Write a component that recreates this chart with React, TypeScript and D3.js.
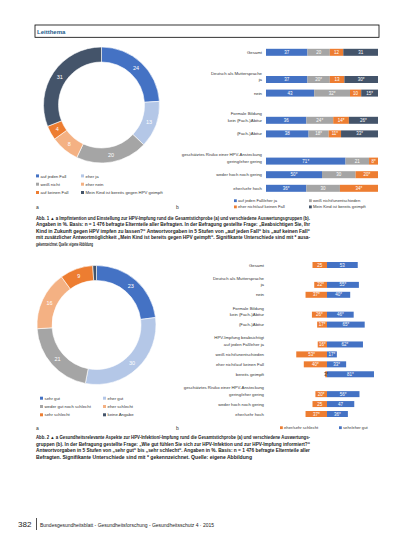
import React from 'react';
import * as d3 from 'd3';

// ---------- DATA ----------
const donut1Categories = ["auf jeden Fall", "eher ja", "weiß nicht", "eher nein", "auf keinen Fall", "Mein Kind ist bereits gegen HPV geimpft"];
const donut1Values = [24, 13, 20, 8, 4, 31];

const bar1Categories = ["Gesamt", "ja", "nein", "kein (Fach-)Abitur", "(Fach-)Abitur", "gering/eher gering", "weder hoch noch gering", "eher/sehr hoch"];
const bar1RowKeys = ["Gesamt", "_s1", "ja", "nein", "_s2", "kein (Fach-)Abitur", "(Fach-)Abitur", "_s3", "gering/eher gering", "weder hoch noch gering", "eher/sehr hoch"];
const bar1Headers = [["ja", "Deutsch als Muttersprache"], ["kein (Fach-)Abitur", "Formale Bildung"], ["gering/eher gering", "geschätztes Risiko einer HPV-Ansteckung"]];
const bar1Series = ["auf jeden Fall/eher ja", "weiß nicht/unentschieden", "eher nicht/auf keinen Fall", "Mein Kind ist bereits geimpft"];
const bar1Yes = [37, 37, 43, 36, 38, 71, 50, 36];
const bar1Undecided = [20, 20, 32, 24, 18, 21, 30, 30];
const bar1No = [12, 13, 10, 14, 11, 8, 20, 34];
const bar1Vaccinated = [31, 30, 15, 26, 33, 0, 0, 0];
const bar1YesSig = [false, false, false, false, false, true, true, true];
const bar1UndecidedSig = [false, true, true, true, true, false, false, false];
const bar1NoSig = [false, false, false, true, true, true, true, true];
const bar1VaccinatedSig = [false, true, true, true, true, false, false, false];

const donut2Categories = ["sehr gut", "eher gut", "weder gut noch schlecht", "eher schlecht", "sehr schlecht", "keine Angabe"];
const donut2Values = [23, 30, 21, 16, 9, 1];

const bar2Categories = ["Gesamt", "ja", "nein", "kein (Fach-)Abitur", "(Fach-)Abitur", "auf jeden Fall/eher ja", "weiß nicht/unentschieden", "eher nicht/auf keinen Fall", "bereits geimpft", "gering/eher gering", "weder hoch noch gering", "eher/sehr hoch"];
const bar2RowKeys = ["Gesamt", "_s1", "ja", "nein", "_s2", "kein (Fach-)Abitur", "(Fach-)Abitur", "_s3", "auf jeden Fall/eher ja", "weiß nicht/unentschieden", "eher nicht/auf keinen Fall", "bereits geimpft", "_s4", "gering/eher gering", "weder hoch noch gering", "eher/sehr hoch"];
const bar2Headers = [["ja", "Deutsch als Muttersprache"], ["kein (Fach-)Abitur", "Formale Bildung"], ["auf jeden Fall/eher ja", "HPV-Impfung beabsichtigt"], ["gering/eher gering", "geschätztes Risiko einer HPV-Ansteckung"]];
const bar2Series = ["eher/sehr schlecht", "sehr/eher gut"];
const bar2Bad = [25, 22, 37, 26, 17, 16, 53, 40, 3, 20, 25, 37];
const bar2Good = [53, 55, 40, 46, 65, 62, 17, 33, 81, 56, 47, 36];
const bar2BadSig = [false, true, true, true, true, true, true, true, true, true, false, true];
const bar2GoodSig = [false, true, true, true, true, true, true, true, true, true, false, true];

const caption1 = [
  "Abb. 1 ▲ a Impfintention und Einstellung zur HPV-Impfung rund die Gesamtstichprobe (a) und verschiedene Auswertungsgruppen (b).",
  "Angaben in %. Basis: n = 1 476 befragte Elternteile aller Befragten. In der Befragung gestellte Frage: „Beabsichtigen Sie, Ihr",
  "Kind in Zukunft gegen HPV impfen zu lassen?“ Antwortvorgaben in 5 Stufen von „auf jeden Fall“ bis „auf keinen Fall“",
  "mit zusätzlicher Antwortmöglichkeit „Mein Kind ist bereits gegen HPV geimpft“. Signifikante Unterschiede sind mit * ausa-",
  "gekennzeichnet. Quelle: eigene Abbildung",
];
const caption2 = [
  "Abb. 2 ▲ a Gesundheitsrelevante Aspekte zur HPV-Infektion/-Impfung rund die Gesamtstichprobe (a) und verschiedene Auswertungs-",
  "gruppen (b). In der Befragung gestellte Frage: „Wie gut fühlen Sie sich zur HPV-Infektion und zur HPV-Impfung informiert?“",
  "Antwortvorgaben in 5 Stufen von „sehr gut“ bis „sehr schlecht“. Angaben in %. Basis: n = 1 476 befragte Elternteile aller",
  "Befragten. Signifikante Unterschiede sind mit * gekennzeichnet. Quelle: eigene Abbildung",
];

// ---------- STYLE ----------
const C = {
  blue: "#4472C4",
  lightBlue: "#B4C7E7",
  gray: "#A5A5A5",
  lightOrange: "#F4B183",
  orange: "#ED7D31",
  navy: "#44546A",
};
const donutColors = [C.blue, C.lightBlue, C.gray, C.lightOrange, C.orange, C.navy];
const bar1Colors = [C.blue, C.gray, C.orange, C.navy];
const FONT = "'Liberation Sans', Arial, sans-serif";
const TXT = "#333";

function Donut({ cx, cy, rOut, rIn, values, cats, legendY, legendX1, legendX2 }: any) {
  const pie = d3.pie<number>().sort(null).value((d) => d);
  const arcs = pie(values);
  const arc = d3.arc<d3.PieArcDatum<number>>().innerRadius(rIn).outerRadius(rOut);
  return (
    <g>
      <g transform={`translate(${cx},${cy})`}>
        {arcs.map((a, i) => (
          <path key={i} d={arc(a) || ""} fill={donutColors[i]} stroke="#fff" strokeWidth={0.6} />
        ))}
        {arcs.map((a, i) => {
          const [x, y] = arc.centroid(a);
          if (a.data < 2) return null;
          return (
            <text key={"t" + i} x={x} y={y} dy="0.35em" textAnchor="middle" fontSize={5.5} fill="#fff" fontFamily={FONT}>
              {a.data}
            </text>
          );
        })}
      </g>
      {cats.map((c: string, i: number) => {
        const col = i % 2;
        const row = Math.floor(i / 2);
        const x = col === 0 ? legendX1 : legendX2;
        const y = legendY + row * 8.3;
        return (
          <g key={"l" + i}>
            <rect x={x} y={y - 1.6} width={3} height={3} fill={donutColors[i]} />
            <text x={x + 4.5} y={y} dy="0.35em" fontSize={4.3} fill={TXT} fontFamily={FONT}>
              {c}
            </text>
          </g>
        );
      })}
    </g>
  );
}

function Caption({ lines, x, y, widths }: any) {
  return (
    <g>
      {lines.map((l: string, i: number) => (
        <text key={i} x={x} y={y + i * 6.6} fontSize={4.5} fontWeight="bold" fill="#222" fontFamily={FONT}
          textLength={widths[i]} lengthAdjust="spacingAndGlyphs">
          {l}
        </text>
      ))}
    </g>
  );
}

export default function App() {
  // ---- Chart 1b (100% stacked) ----
  const y1 = d3.scalePoint<string>().domain(bar1RowKeys).range([52.3, 188.3]);
  const x1 = d3.scaleLinear().domain([0, 100]).range([266, 378]);
  const s1 = [bar1Yes, bar1Undecided, bar1No, bar1Vaccinated];
  const s1Sig = [bar1YesSig, bar1UndecidedSig, bar1NoSig, bar1VaccinatedSig];
  const table1 = bar1Categories.map((c, i) => {
    const o: any = { cat: c };
    bar1Series.forEach((s, j) => (o[s] = s1[j][i]));
    return o;
  });
  const stack1 = d3.stack<any>().keys(bar1Series)(table1);
  const bh1 = 7;

  // ---- Chart 2b (diverging) ----
  const y2 = d3.scalePoint<string>().domain(bar2RowKeys).range([265, 414]);
  const x2 = d3.scaleLinear().domain([-100, 100]).range([327 - 58, 327 + 58]);
  const bh2 = 6;

  return (
    <svg width={413} height={550} style={{ position: "absolute", left: 0, top: 0, background: "#fff" }}>
      <rect x={0} y={0} width={413} height={550} fill="#fff" />
      {/* header */}
      <rect x={35} y={25} width={344} height={12.3} fill="none" stroke="#000" strokeWidth={0.8} />
      <text x={37} y={33.5} fontSize={6} fontWeight="bold" fill="#1C5D8C" fontFamily={FONT}>Leitthema</text>

      {/* Figure 1a */}
      <Donut cx={101.5} cy={105} rOut={58} rIn={43} values={donut1Values} cats={donut1Categories}
        legendY={176} legendX1={36} legendX2={81} />
      <text x={36} y={209} fontSize={5} fill={TXT} fontFamily={FONT}>a</text>
      <text x={176} y={209} fontSize={5} fill={TXT} fontFamily={FONT}>b</text>

      {/* Figure 1b */}
      <g>
        {bar1Headers.map(([k, h]) => (
          <text key={h} x={262} y={(y1(k) as number) - 6.5} dy="0.35em" textAnchor="end" fontSize={4.3} fill={TXT} fontFamily={FONT}>{h}</text>
        ))}
        {bar1Categories.map((c) => (
          <text key={c} x={262} y={y1(c)} dy="0.35em" textAnchor="end" fontSize={4.3} fill={TXT} fontFamily={FONT}>{c}</text>
        ))}
        {stack1.map((layer, j) => (
          <g key={j}>
            {layer.map((d, i) => {
              const w = x1(d[1]) - x1(d[0]);
              if (w <= 0) return null;
              const yy = y1(bar1Categories[i]) as number;
              return (
                <g key={i}>
                  <rect x={x1(d[0])} y={yy - bh1 / 2} width={w} height={bh1} fill={bar1Colors[j]} />
                  <text x={x1(d[0]) + w / 2} y={yy} dy="0.35em" textAnchor="middle" fontSize={4.5} fill="#fff" fontFamily={FONT}>
                    {s1[j][i]}{s1Sig[j][i] ? "*" : ""}
                  </text>
                </g>
              );
            })}
          </g>
        ))}
        {bar1Series.map((s, j) => {
          const col = j % 2;
          const row = Math.floor(j / 2);
          const x = col === 0 ? 234 : 309;
          const y = 200.7 + row * 6.2;
          return (
            <g key={s}>
              <rect x={x} y={y - 1.4} width={2.8} height={2.8} fill={bar1Colors[j]} />
              <text x={x + 4} y={y} dy="0.35em" fontSize={4.2} fill={TXT} fontFamily={FONT}>{s}</text>
            </g>
          );
        })}
      </g>

      <Caption lines={caption1} x={36} y={219.5} widths={[274, 274, 274, 274, 57]} />

      {/* Figure 2a */}
      <Donut cx={96.5} cy={325} rOut={59.5} rIn={44.5} values={donut2Values} cats={donut2Categories}
        legendY={398.3} legendX1={40} legendX2={103} />
      <text x={36} y={430} fontSize={5} fill={TXT} fontFamily={FONT}>a</text>
      <text x={176} y={430} fontSize={5} fill={TXT} fontFamily={FONT}>b</text>

      {/* Figure 2b */}
      <g>
        {bar2Headers.map(([k, h]) => (
          <text key={h} x={264} y={(y2(k) as number) - 6.5} dy="0.35em" textAnchor="end" fontSize={4.3} fill={TXT} fontFamily={FONT}>{h}</text>
        ))}
        {bar2Categories.map((c) => (
          <text key={c} x={264} y={y2(c)} dy="0.35em" textAnchor="end" fontSize={4.3} fill={TXT} fontFamily={FONT}>{c}</text>
        ))}
        {bar2Categories.map((c, i) => {
          const yy = y2(c) as number;
          const xb = x2(-bar2Bad[i]);
          const xg = x2(bar2Good[i]);
          const x0 = x2(0);
          return (
            <g key={"b" + c}>
              <rect x={xb} y={yy - bh2 / 2} width={x0 - xb} height={bh2} fill={C.orange} />
              <rect x={x0} y={yy - bh2 / 2} width={xg - x0} height={bh2} fill={C.blue} />
              <text x={(xb + x0) / 2} y={yy} dy="0.35em" textAnchor="middle" fontSize={4.5} fill={bar2Bad[i] < 6 ? TXT : "#fff"} fontFamily={FONT}>
                {bar2Bad[i]}{bar2BadSig[i] ? "*" : ""}
              </text>
              <text x={(x0 + xg) / 2} y={yy} dy="0.35em" textAnchor="middle" fontSize={4.5} fill="#fff" fontFamily={FONT}>
                {bar2Good[i]}{bar2GoodSig[i] ? "*" : ""}
              </text>
            </g>
          );
        })}
        {bar2Series.map((s, j) => {
          const x = j === 0 ? 280 : 339;
          const y = 427.7;
          return (
            <g key={s}>
              <rect x={x} y={y - 1.4} width={2.8} height={2.8} fill={j === 0 ? C.orange : C.blue} />
              <text x={x + 4} y={y} dy="0.35em" fontSize={4.2} fill={TXT} fontFamily={FONT}>{s}</text>
            </g>
          );
        })}
      </g>

      <Caption lines={caption2} x={36} y={439} widths={[274, 274, 274, 216]} />

      {/* footer */}
      <text x={18} y={527} fontSize={8} fill="#222" fontFamily={FONT}>382</text>
      <line x1={36.5} y1={518} x2={36.5} y2={530} stroke="#222" strokeWidth={0.8} />
      <text x={40} y={526.5} fontSize={4.6} fill="#222" fontFamily={FONT} textLength={174} lengthAdjust="spacingAndGlyphs">
        Bundesgesundheitsblatt - Gesundheitsforschung - Gesundheitsschutz 4 · 2015
      </text>
    </svg>
  );
}
